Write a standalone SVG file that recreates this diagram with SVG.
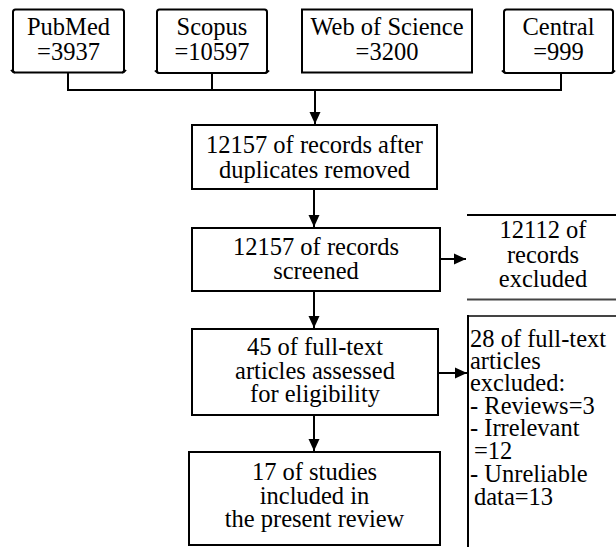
<svg xmlns="http://www.w3.org/2000/svg" width="616" height="547" viewBox="0 0 616 547">
<defs>
<marker id="arr" markerUnits="userSpaceOnUse" markerWidth="12" markerHeight="12" refX="12" refY="6" orient="auto">
<path d="M0,0.5 L12,6 L0,11.5 z" fill="#000"/>
</marker>
<style>
.box{fill:#fff;stroke:#000;stroke-width:2}
text{font-family:'Liberation Serif','Times New Roman',Times,serif;font-size:24.5px;fill:#000}
.t{text-anchor:middle}
.ln{fill:none;stroke:#000;stroke-width:2}
.gr{fill:none;stroke:#444;stroke-width:2}
</style>
</defs>
<rect width="616" height="547" fill="#fff"/>
<g id="connectors">
<path class="ln" d="M68,72.5 V90 M212,73 V90 M561,73 V90 M67,90 H562"/>
<line class="ln" x1="315" y1="90" x2="315" y2="124" marker-end="url(#arr)"/>
<line class="ln" x1="314" y1="189" x2="314" y2="227" marker-end="url(#arr)"/>
<line class="ln" x1="314" y1="291" x2="314" y2="328" marker-end="url(#arr)"/>
<line class="ln" x1="314" y1="415" x2="314" y2="451" marker-end="url(#arr)"/>
<line class="ln" x1="440" y1="259" x2="466" y2="259" marker-end="url(#arr)"/>
<line class="ln" x1="438" y1="373" x2="467" y2="373" marker-end="url(#arr)"/>
</g>
<g id="pubmed">
<path class="box" d="M15,72.5 Q13,72.5 13,70 V12 Q13,9.5 15.5,9.5 H121.5 Q124,9.5 124,12 V70 Q124,72.5 122,72.5 Z"/>
<path class="ln" d="M11,70 Q13,72.5 15,72.5 M122,72.5 Q124,72.5 126,70"/>
<text class="t" x="68.5" y="35">PubMed</text>
<text class="t" x="68.5" y="60">=3937</text>
</g>
<g id="scopus">
<path class="box" d="M159,73 Q157,73 157,70.5 V12 Q157,9.5 159.5,9.5 H264.5 Q267,9.5 267,12 V70.5 Q267,73 265,73 Z"/>
<path class="ln" d="M155,70.5 Q157,73 159,73 M265,73 Q267,73 269,70.5"/>
<text class="t" x="212" y="35">Scopus</text>
<text class="t" x="212" y="60">=10597</text>
</g>
<g id="wos">
<rect class="box" x="302" y="9.5" width="170" height="63"/>
<text class="t" x="387" y="35">Web of Science</text>
<text class="t" x="387" y="60">=3200</text>
</g>
<g id="central">
<path class="box" d="M506,73 Q504,73 504,70.5 V12 Q504,9.5 506.5,9.5 H610.5 Q613,9.5 613,12 V70.5 Q613,73 611,73 Z"/>
<path class="ln" d="M502,70.5 Q504,73 506,73 M611,73 Q613,73 615,70.5"/>
<text class="t" x="558.5" y="35">Central</text>
<text class="t" x="558.5" y="60">=999</text>
</g>
<g id="dedup">
<rect class="box" x="192" y="125" width="245" height="64"/>
<text class="t" x="314.5" y="152.5">12157 of records after</text>
<text class="t" x="314.5" y="177.5">duplicates removed</text>
</g>
<g id="screened">
<rect class="box" x="192" y="228" width="248" height="63"/>
<text class="t" x="316" y="255">12157 of records</text>
<text class="t" x="316" y="278.5">screened</text>
</g>
<g id="excluded1">
<line class="ln" x1="467" y1="215" x2="616" y2="215"/>
<line class="gr" x1="467" y1="299.5" x2="616" y2="299.5"/>
<text class="t" x="543" y="238">12112 of</text>
<text class="t" x="543" y="263">records</text>
<text class="t" x="543" y="287">excluded</text>
</g>
<g id="fulltext">
<rect class="box" x="192" y="329" width="246" height="86"/>
<text class="t" x="315" y="355">45 of full-text</text>
<text class="t" x="315" y="379">articles assessed</text>
<text class="t" x="315" y="402">for eligibility</text>
</g>
<g id="excluded2">
<path class="gr" d="M468,316 H616"/>
<path class="ln" d="M468,315 V547"/>
<text x="470" y="347">28 of full-text</text>
<text x="470" y="369">articles</text>
<text x="470" y="391">excluded:</text>
<text x="470" y="413.5">- Reviews=3</text>
<text x="470" y="436">- Irrelevant</text>
<text x="474" y="458.5">=12</text>
<text x="470" y="481.5">- Unreliable</text>
<text x="474" y="505">data=13</text>
</g>
<g id="included">
<rect class="box" x="189" y="452" width="251" height="93"/>
<text class="t" x="314.5" y="480">17 of studies</text>
<text class="t" x="314.5" y="503.5">included in</text>
<text class="t" x="314.5" y="527">the present review</text>
</g>
</svg>
